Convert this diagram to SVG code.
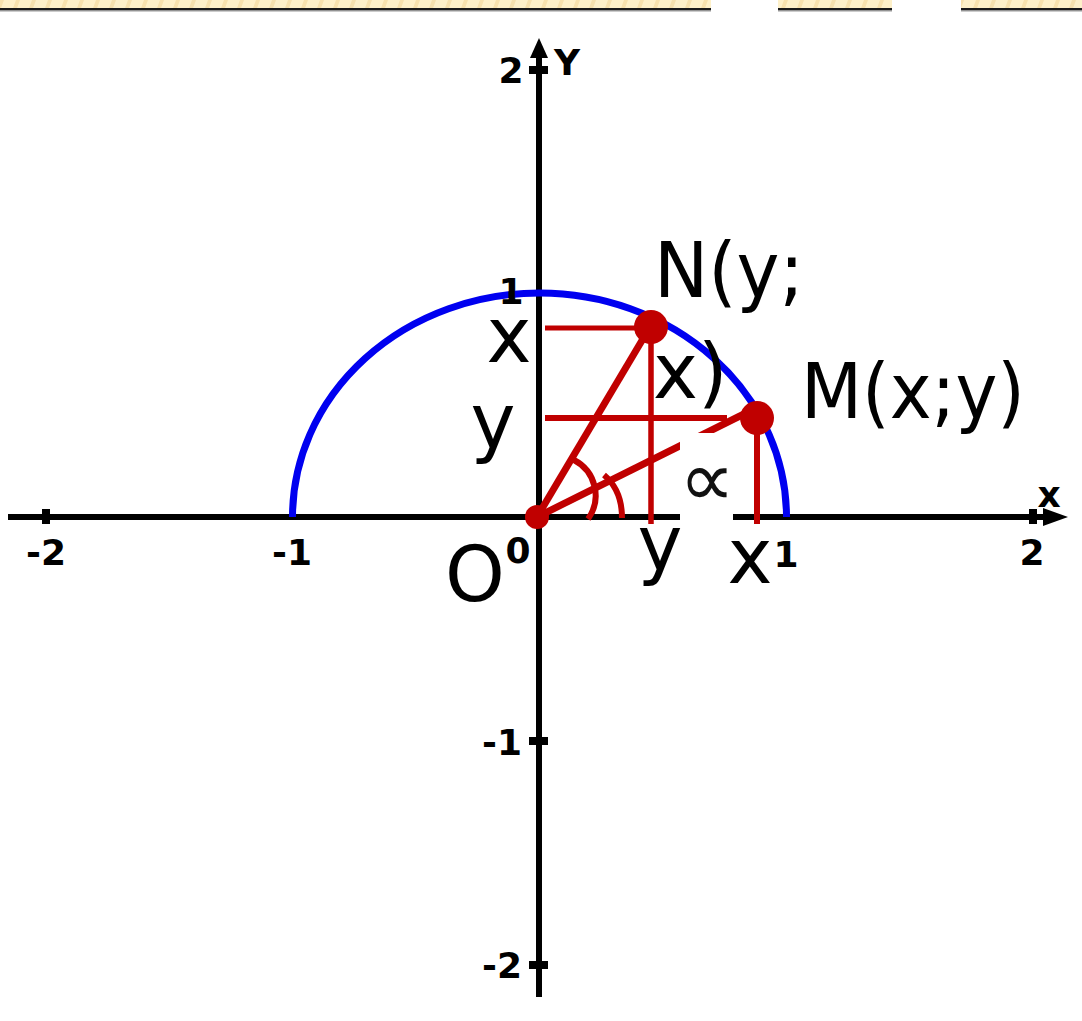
<svg xmlns="http://www.w3.org/2000/svg" width="1082" height="1021" viewBox="0 0 1082 1021">
<defs>
<pattern id="stripe" width="16" height="10" patternUnits="userSpaceOnUse" patternTransform="skewX(-20)">
<rect width="16" height="10" fill="#fdf0c9"/>
<rect x="0" width="4" height="10" fill="#f6e1ae"/>
</pattern>
</defs>
<style>
.axis{stroke:#000;stroke-width:6;fill:none}
.tick{fill:#000}
.lbl{font-family:"DejaVu Sans",sans-serif;font-weight:bold;font-size:36px;fill:#000}
.big{font-family:"DejaVu Sans",sans-serif;font-size:76px;fill:#000}
.red{stroke:#c00000;fill:none}
.dot{fill:#c00000}
</style>
<rect width="1082" height="1021" fill="#fff"/>
<g id="banner">
<rect x="0" y="0" width="1082" height="8" fill="url(#stripe)"/>
<rect x="0" y="8" width="1082" height="2.5" fill="#1a1a1a"/>
<rect x="0" y="10.5" width="1082" height="1" fill="#999"/>
<rect x="711" y="0" width="67" height="12" fill="#fff"/>
<rect x="892" y="0" width="69" height="12" fill="#fff"/>
</g>
<g id="axes">
<line class="axis" x1="8" y1="517" x2="1046" y2="517"/>
<polygon points="1068,517 1043,508 1043,526" fill="#000"/>
<line class="axis" x1="539" y1="997" x2="539" y2="55"/>
<polygon points="539,38 530,58 548,58" fill="#000"/>
<rect class="tick" x="42" y="509" width="8" height="15"/>
<rect class="tick" x="1029" y="509" width="8" height="15"/>
<rect class="tick" x="529" y="66" width="19" height="8"/>
<rect class="tick" x="529" y="737" width="19" height="8"/>
<rect class="tick" x="529" y="961" width="19" height="8"/>
</g>
<g id="curve">
<path d="M 292.5,517 A 247 224 0 0 1 786.5,517" stroke="#0000f0" stroke-width="7" fill="none"/>
</g>
<g id="connectors">
<line class="red" stroke-width="7" x1="537" y1="517" x2="650" y2="327"/>
<line class="red" stroke-width="7" x1="537" y1="517" x2="750" y2="411"/>
<line class="red" stroke-width="5" x1="545" y1="328" x2="650" y2="328"/>
<line class="red" stroke-width="6" x1="545" y1="418" x2="727" y2="418"/>
<line class="red" stroke-width="5.5" x1="651" y1="327" x2="651" y2="524"/>
<line class="red" stroke-width="6" x1="757" y1="418" x2="757" y2="524"/>
<path class="red" stroke-width="6" d="M 574,460 A 40 40 0 0 1 588,519"/>
<path class="red" stroke-width="6" d="M 604,475 Q 622,490 622,518"/>
</g>
<g id="alpha">
<rect x="680" y="433" width="53" height="92" fill="#fff"/>
<text x="707" y="506" text-anchor="middle" font-family="DejaVu Sans, sans-serif" font-size="78" fill="#111">∝</text>
</g>
<g id="point-O">
<circle class="dot" cx="537" cy="517" r="12"/>
<text class="big" x="475" y="601" text-anchor="middle">O</text>
</g>
<g id="point-N">
<circle class="dot" cx="651" cy="327" r="17"/>
<text class="big" x="654" y="297" textLength="150" lengthAdjust="spacingAndGlyphs">N(y;</text>
<text class="big" x="653" y="398">x)</text>
</g>
<g id="point-M">
<circle class="dot" cx="757" cy="418" r="17"/>
<text class="big" x="801" y="418" font-size="74" textLength="224" lengthAdjust="spacingAndGlyphs">M(x;y)</text>
</g>
<g id="proj-labels">
<text class="big" x="509" y="362" text-anchor="middle" font-size="86">x</text>
<text class="big" x="493" y="448" text-anchor="middle">y</text>
<text class="big" x="660" y="570" text-anchor="middle">y</text>
<text class="big" x="750" y="583" text-anchor="middle">x</text>
</g>
<g id="tick-labels">
<text class="lbl" x="46" y="565" text-anchor="middle">-2</text>
<text class="lbl" x="292" y="565" text-anchor="middle">-1</text>
<text class="lbl" x="518" y="563" text-anchor="middle">0</text>
<text class="lbl" x="786" y="567" text-anchor="middle">1</text>
<text class="lbl" x="1032" y="565" text-anchor="middle">2</text>
<text class="lbl" x="511" y="83" text-anchor="middle">2</text>
<text class="lbl" x="511" y="304" text-anchor="middle" font-size="34">1</text>
<text class="lbl" x="502" y="755" text-anchor="middle">-1</text>
<text class="lbl" x="502" y="978" text-anchor="middle">-2</text>
<text class="lbl" x="567" y="75" text-anchor="middle">Y</text>
<text class="lbl" x="1049" y="507" text-anchor="middle" font-size="40">x</text>
</g>
</svg>
